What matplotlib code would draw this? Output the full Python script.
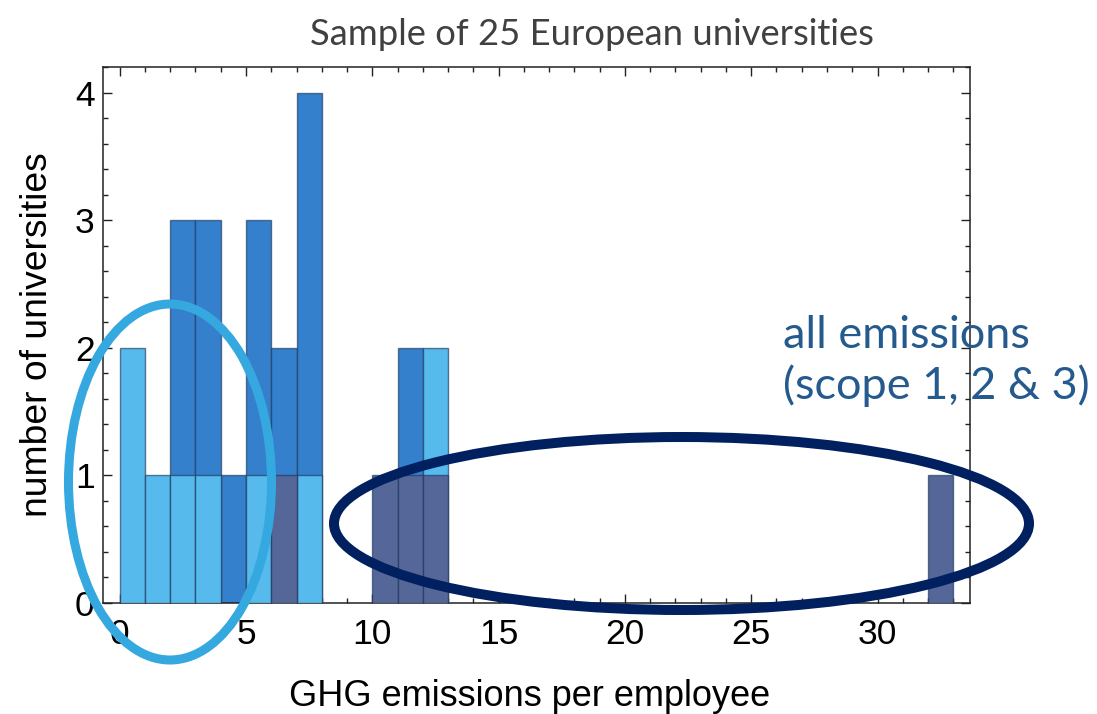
import matplotlib
matplotlib.use("Agg")
import matplotlib.pyplot as plt
from matplotlib.patches import Ellipse
from matplotlib.ticker import MultipleLocator

# ---- data (bin left edges, counts per bin; bin width = 1) ----
mid_bins = [2, 3, 4, 5, 6, 7, 11]
mid_counts = [3, 3, 1, 3, 2, 4, 2]
light_bins = [0, 1, 2, 3, 5, 7, 12]
light_counts = [2, 1, 1, 1, 1, 1, 2]
navy_bins = [6, 10, 11, 12, 32]
navy_counts = [1, 1, 1, 1, 1]

x_ticks = [0, 5, 10, 15, 20, 25, 30]
y_ticks = [0, 1, 2, 3, 4]

title = "Sample of 25 European universities"
xlabel = "GHG emissions per employee"
ylabel = "number of universities"
note = "all emissions\n(scope 1, 2 & 3)"

W, H = 1097, 714
fig = plt.figure(figsize=(W / 100, H / 100), dpi=100)
fig.patch.set_facecolor("white")

def fx(px):
    return px / W

def fy(py):
    return 1 - py / H

ax = fig.add_axes([fx(103), fy(603), fx(970) - fx(103), fy(67) - fy(603)])

edge = (0.12, 0.22, 0.36, 0.65)
ax.bar(mid_bins, mid_counts, width=1, align="edge", color="#3480CC",
       edgecolor=edge, linewidth=1.0, zorder=2)
ax.bar(light_bins, light_counts, width=1, align="edge", color="#56BAEC",
       edgecolor=edge, linewidth=1.0, zorder=3)
ax.bar(navy_bins, navy_counts, width=1, align="edge", color="#556699",
       edgecolor=edge, linewidth=1.0, zorder=4)

ax.set_xlim(-0.66, 33.66)
ax.set_ylim(0, 4.2)
ax.set_xticks(x_ticks)
ax.set_yticks(y_ticks)
ax.xaxis.set_minor_locator(MultipleLocator(1))
ax.yaxis.set_minor_locator(MultipleLocator(0.2))
ax.tick_params(which="both", direction="in", top=True, right=True,
               color="#222222", width=1.0)
ax.tick_params(which="major", length=6.5)
ax.tick_params(which="minor", length=3.6)
ax.tick_params(axis="x", which="major", pad=11)
ax.tick_params(axis="y", which="major", pad=6)
for lab in ax.get_xticklabels() + ax.get_yticklabels():
    lab.set_fontfamily(["Liberation Sans", "DejaVu Sans"])
    lab.set_fontsize(25.5)
for s in ax.spines.values():
    s.set_linewidth(1.1)
    s.set_color("#222222")

fig.text(fx(530), fy(706), xlabel, ha="center", va="baseline",
         fontsize=26, family=["Liberation Sans", "DejaVu Sans"])
fig.text(fx(38), fy(335), ylabel, ha="center", va="center", rotation=90,
         fontsize=26.8, family=["Liberation Sans", "DejaVu Sans"])
fig.text(fx(592), fy(45), title, ha="center", va="baseline",
         fontsize=26.2, color="#404040", family=["Lato", "DejaVu Sans"])
fig.text(fx(783), fy(315), note, ha="left", va="top", fontsize=32.5,
         color="#245A8D", family=["Lato", "DejaVu Sans"], linespacing=1.25)

fig.add_artist(Ellipse((fx(170), fy(482)), fx(203), 356 / H, fill=False,
                       edgecolor="#35A8E0", linewidth=6.5,
                       transform=fig.transFigure, zorder=10))
fig.add_artist(Ellipse((fx(681.5), fy(523.5)), fx(695), 173 / H, fill=False,
                       edgecolor="#002060", linewidth=7.2,
                       transform=fig.transFigure, zorder=10))

fig.savefig("out.png", dpi=100)
